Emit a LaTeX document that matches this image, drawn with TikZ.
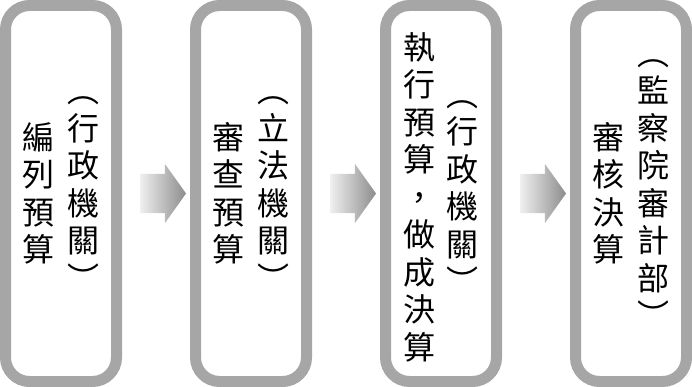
\documentclass[tikz,border=0pt]{standalone}
\usepackage{fontspec}
\newfontfamily\cjk{Noto Sans CJK TC}
\usepackage{tikz}
\usetikzlibrary{shapes.arrows,positioning,calc}

\begin{document}
\begin{tikzpicture}[x=1pt,y=-1pt,
  panel/.style={draw=black!35, line width=11pt, fill=white, rounded corners=24pt,
    minimum width=111pt, minimum height=376pt},
  column/.style={align=center, inner sep=0pt, font=\cjk\fontsize{32}{37.5}\selectfont},
  flow/.style={single arrow, draw=none, left color=black!6, right color=black!45,
    minimum height=46pt, inner xsep=0pt, inner ysep=19.5pt,
    single arrow head extend=10pt, single arrow tip angle=109}]
\useasboundingbox (0,0) rectangle (692,387);
\node[panel] (draft)  at (61,193.5)  {};
\node[panel] (review) at (251,193.5) {};
\node[panel] (run)    at (441,193.5) {};
\node[panel] (audit)  at (631,193.5) {};
\node[column] (draftorg)  at ([xshift=22pt]draft.center)  {︵\\行\\政\\機\\關\\︶};
\node[column] (drafttask) at ([xshift=-23pt]draft.center) {編\\列\\預\\算};
\node[column] (revieworg)  at ([xshift=22pt]review.center)  {︵\\立\\法\\機\\關\\︶};
\node[column] (reviewtask) at ([xshift=-23pt]review.center) {審\\查\\預\\算};
\node[column] (runorg)  at ([xshift=21pt,yshift=-3.5pt]run.center)  {︵\\行\\政\\機\\關\\︶};
\node[column] (runtask) at ([xshift=-22pt,yshift=-3.5pt]run.center) {執\\行\\預\\算\\，\\做\\成\\決\\算};
\node[column] (auditorg)  at ([xshift=22pt]audit.center)  {︵\\監\\察\\院\\審\\計\\部\\︶};
\node[column] (audittask) at ([xshift=-23pt]audit.center) {審\\核\\決\\算};
\node[flow] (step1) at ($(draft.east)!0.5!(review.west)$) {};
\node[flow] (step2) at ($(review.east)!0.5!(run.west)$) {};
\node[flow] (step3) at ($(run.east)!0.5!(audit.west)$) {};
\end{tikzpicture}
\end{document}
